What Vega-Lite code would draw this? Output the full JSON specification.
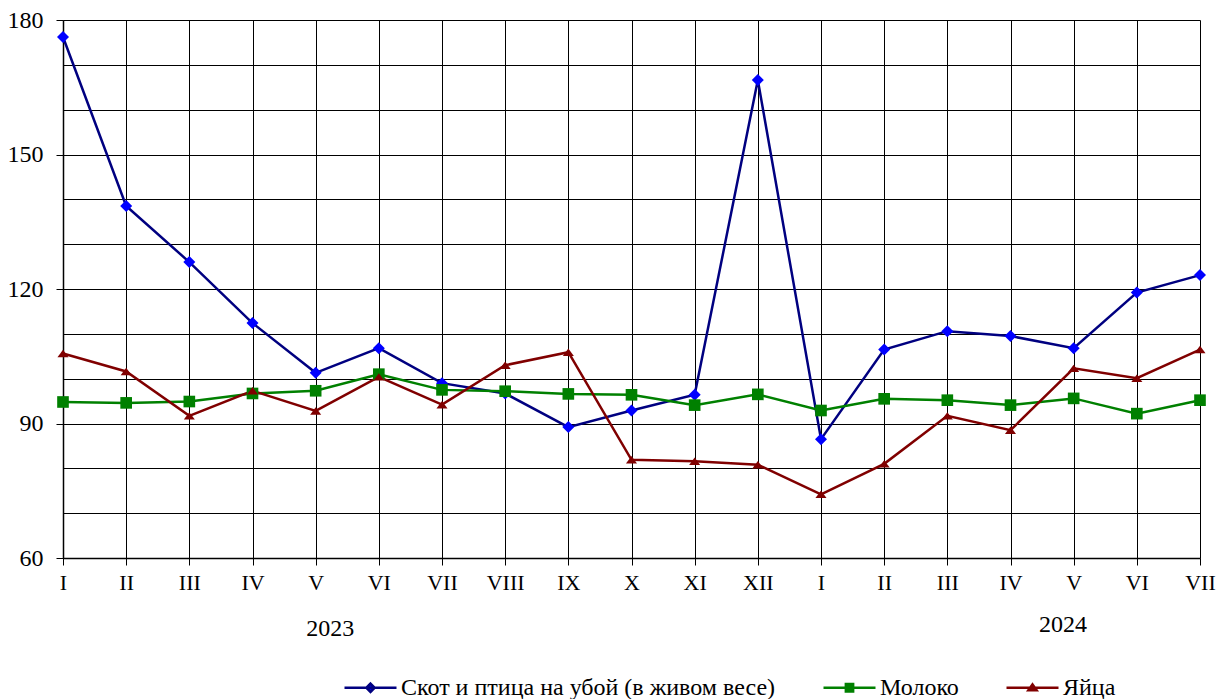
{
  "$schema": "https://vega.github.io/schema/vega-lite/v6.json",
  "width": 1137,
  "height": 538,
  "autosize": {"type": "none"},
  "padding": {"left": 63, "top": 20, "right": 19, "bottom": 141},
  "background": "white",
  "config": {
    "view": {"stroke": null},
    "font": "Liberation Serif",
    "axisY": {"labelFont": "Liberation Serif", "labelFontSize": 24, "labelColor": "#000000"},
    "axisX": {"labelFont": "Liberation Serif", "labelFontSize": 22, "labelColor": "#000000"}
  },
  "data": {
    "values": [
      {"i": 0, "Скот и птица на убой (в живом весе)": 176.2, "Молоко": 94.8, "Яйца": 105.6},
      {"i": 1, "Скот и птица на убой (в живом весе)": 138.5, "Молоко": 94.6, "Яйца": 101.6},
      {"i": 2, "Скот и птица на убой (в живом весе)": 126.0, "Молоко": 94.9, "Яйца": 91.7},
      {"i": 3, "Скот и птица на убой (в живом весе)": 112.4, "Молоко": 96.7, "Яйца": 97.3},
      {"i": 4, "Скот и птица на убой (в живом весе)": 101.3, "Молоко": 97.3, "Яйца": 92.8},
      {"i": 5, "Скот и птица на убой (в живом весе)": 106.8, "Молоко": 101.0, "Яйца": 100.4},
      {"i": 6, "Скот и птица на убой (в живом весе)": 99.0, "Молоко": 97.5, "Яйца": 94.2},
      {"i": 7, "Скот и птица на убой (в живом весе)": 96.7, "Молоко": 97.2, "Яйца": 103.0},
      {"i": 8, "Скот и птица на убой (в живом весе)": 89.2, "Молоко": 96.6, "Яйца": 105.9},
      {"i": 9, "Скот и птица на убой (в живом весе)": 92.9, "Молоко": 96.4, "Яйца": 81.9},
      {"i": 10, "Скот и птица на убой (в живом весе)": 96.4, "Молоко": 94.1, "Яйца": 81.6},
      {"i": 11, "Скот и птица на убой (в живом весе)": 166.6, "Молоко": 96.5, "Яйца": 80.8},
      {"i": 12, "Скот и птица на убой (в живом весе)": 86.5, "Молоко": 92.9, "Яйца": 74.2},
      {"i": 13, "Скот и птица на убой (в живом весе)": 106.5, "Молоко": 95.5, "Яйца": 81.0},
      {"i": 14, "Скот и птица на убой (в живом весе)": 110.6, "Молоко": 95.2, "Яйца": 91.7},
      {"i": 15, "Скот и птица на убой (в живом весе)": 109.5, "Молоко": 94.1, "Яйца": 88.5},
      {"i": 16, "Скот и птица на убой (в живом весе)": 106.8, "Молоко": 95.6, "Яйца": 102.3},
      {"i": 17, "Скот и птица на убой (в живом весе)": 119.2, "Молоко": 92.2, "Яйца": 100.1},
      {"i": 18, "Скот и птица на убой (в живом весе)": 123.1, "Молоко": 95.2, "Яйца": 106.5}
    ]
  },
  "layer": [
    {
      "transform": [{"fold": ["Скот и птица на убой (в живом весе)", "Молоко", "Яйца"], "as": ["series", "value"]}],
      "mark": {"type": "line", "strokeWidth": 2.5},
      "encoding": {
        "x": {
          "field": "i",
          "type": "quantitative",
          "scale": {"domain": [0, 18], "nice": false, "zero": false},
          "axis": {
            "title": null,
            "values": [0, 0.5, 1, 1.5, 2, 2.5, 3, 3.5, 4, 4.5, 5, 5.5, 6, 6.5, 7, 7.5, 8, 8.5, 9, 9.5, 10, 10.5, 11, 11.5, 12, 12.5, 13, 13.5, 14, 14.5, 15, 15.5, 16, 16.5, 17, 17.5, 18],
            "labelExpr": "datum.value % 1 === 0 ? ['I','II','III','IV','V','VI','VII','VIII','IX','X','XI','XII','I','II','III','IV','V','VI','VII'][datum.value] : ''",
            "labelOverlap": false,
            "labelFlush": false,
            "labelAngle": 0,
            "labelFont": "Liberation Serif",
            "labelFontSize": 22,
            "labelColor": "#000000",
            "labelPadding": 7,
            "grid": true,
            "gridColor": "#000000",
            "gridOpacity": 1,
            "gridWidth": 1,
            "ticks": true,
            "tickSize": 7,
            "tickColor": "#000000",
            "tickWidth": 1,
            "tickOpacity": {"condition": {"test": "datum.value % 1 === 0", "value": 1}, "value": 0},
            "domainColor": "#000000",
            "domainWidth": 1.5
          }
        },
        "y": {
          "field": "value",
          "type": "quantitative",
          "scale": {"domain": [60, 180], "nice": false, "zero": false},
          "axis": {
            "title": null,
            "values": [60, 70, 80, 90, 100, 110, 120, 130, 140, 150, 160, 170, 180],
            "labelExpr": "datum.value % 30 === 0 ? '' + datum.value : ''",
            "labelOverlap": false,
            "labelFlush": false,
            "labelFont": "Liberation Serif",
            "labelFontSize": 24,
            "labelColor": "#000000",
            "labelPadding": 13,
            "grid": true,
            "gridColor": "#000000",
            "gridOpacity": 1,
            "gridWidth": 1,
            "ticks": true,
            "tickSize": 7,
            "tickColor": "#000000",
            "tickWidth": 1,
            "tickOpacity": {"condition": {"test": "datum.value % 30 === 0", "value": 1}, "value": 0},
            "domainColor": "#000000",
            "domainWidth": 1.5
          }
        },
        "stroke": {
          "field": "series",
          "type": "nominal",
          "scale": {"domain": ["Скот и птица на убой (в живом весе)", "Молоко", "Яйца"], "range": ["#000080", "#008000", "#800000"]},
          "legend": {
            "title": null,
            "orient": "none",
            "direction": "horizontal",
            "legendX": 280,
            "legendY": 640,
            "padding": 0,
            "symbolSize": 2704,
            "symbolStrokeWidth": 2.5,
            "labelFont": "Liberation Serif",
            "labelFontSize": 24,
            "labelColor": "#000000",
            "labelOffset": 3,
            "labelLimit": 0,
            "columnPadding": 42,
            "encode": {
              "symbols": {
                "update": {
                  "shape": {"signal": "datum.value === 'Молоко' ? 'M-1,0H1M-0.14,-0.14H0.14V0.14H-0.14Z' : datum.value === 'Яйца' ? 'M-1,0H1M0,-0.13L0.16,0.1H-0.16Z' : 'M-1,0H1M0,-0.16L0.16,0L0,0.16L-0.16,0Z'"},
                  "fill": {"signal": "datum.value === 'Молоко' ? '#008000' : datum.value === 'Яйца' ? '#800000' : '#0000FF'"},
                  "stroke": {"signal": "datum.value === 'Молоко' ? '#008000' : datum.value === 'Яйца' ? '#800000' : '#000080'"},
                  "strokeWidth": {"value": 2.5},
                  "opacity": {"value": 1},
                  "fillOpacity": {"value": 1},
                  "strokeOpacity": {"value": 1}
                }
              }
            }
          }
        }
      }
    },
    {
      "transform": [
        {"fold": ["Скот и птица на убой (в живом весе)", "Молоко", "Яйца"], "as": ["series", "value"]},
        {"filter": "datum.series === 'Скот и птица на убой (в живом весе)'"}
      ],
      "mark": {"type": "point", "filled": true, "opacity": 1, "size": 144, "color": "#0000FF", "shape": "M0,-1L1,0L0,1L-1,0Z"},
      "encoding": {
        "x": {"field": "i", "type": "quantitative"},
        "y": {"field": "value", "type": "quantitative"}
      }
    },
    {
      "transform": [
        {"fold": ["Скот и птица на убой (в живом весе)", "Молоко", "Яйца"], "as": ["series", "value"]},
        {"filter": "datum.series === 'Молоко'"}
      ],
      "mark": {"type": "point", "filled": true, "opacity": 1, "size": 144, "color": "#008000", "shape": "M-0.97,-0.97H0.97V0.97H-0.97Z"},
      "encoding": {
        "x": {"field": "i", "type": "quantitative"},
        "y": {"field": "value", "type": "quantitative"}
      }
    },
    {
      "transform": [
        {"fold": ["Скот и птица на убой (в живом весе)", "Молоко", "Яйца"], "as": ["series", "value"]},
        {"filter": "datum.series === 'Яйца'"}
      ],
      "mark": {"type": "point", "filled": true, "opacity": 1, "size": 144, "color": "#800000", "shape": "M0,-0.62L0.92,0.62H-0.92Z"},
      "encoding": {
        "x": {"field": "i", "type": "quantitative"},
        "y": {"field": "value", "type": "quantitative"}
      }
    },
    {
      "data": {"values": [{"t": "2023"}]},
      "mark": {"type": "text", "font": "Liberation Serif", "fontSize": 24, "color": "#000000", "baseline": "middle", "align": "center"},
      "encoding": {
        "x": {"datum": 4.23, "type": "quantitative"},
        "y": {"datum": 44.2, "type": "quantitative"},
        "text": {"field": "t", "type": "nominal"}
      }
    },
    {
      "data": {"values": [{"t": "2024"}]},
      "mark": {"type": "text", "font": "Liberation Serif", "fontSize": 24, "color": "#000000", "baseline": "middle", "align": "center"},
      "encoding": {
        "x": {"datum": 15.83, "type": "quantitative"},
        "y": {"datum": 45.1, "type": "quantitative"},
        "text": {"field": "t", "type": "nominal"}
      }
    }
  ]
}
